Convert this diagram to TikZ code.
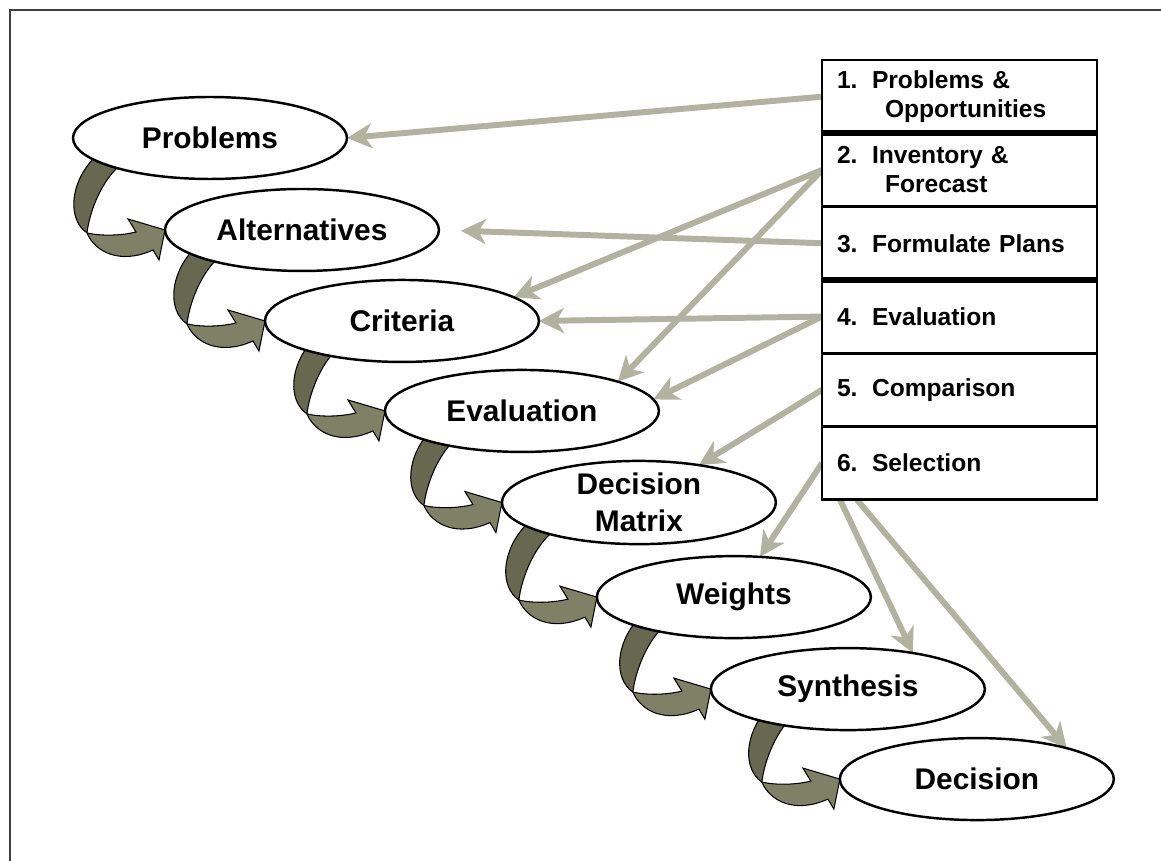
\documentclass[tikz,border=0pt]{standalone}
\usepackage{fontspec}
\setmainfont{Liberation Sans}
\usetikzlibrary{arrows.meta, positioning, calc, backgrounds, shapes.geometric}
\definecolor{sage}{RGB}{178,178,160}
\definecolor{olivedark}{RGB}{104,104,80}
\definecolor{olivelight}{RGB}{128,128,102}

\newcommand{\stepnum}[1]{\makebox[0.7cm][l]{#1}}
% twisted fat arrow, tip placed on the given point
\newcommand{\bentarrow}[1]{%
  \begin{scope}[shift={(#1)}, draw=black, line width=0.6pt]
    \filldraw[fill=olivedark] (-73,-78) -- (-72,-71) .. controls (-96,-45) and (-97,-10) .. (-78,3)
      .. controls (-76,-15) and (-66,-45) .. (-47,-63) -- (-45,-75) -- cycle;
    \filldraw[fill=olivelight] (-78,3) .. controls (-70,22) and (-45,35) .. (-12,20) -- (-6,30) -- (0,0)
      -- (-37,-11) -- (-29,2) .. controls (-45,6) and (-65,6) .. (-78,3) -- cycle;
  \end{scope}}

\begin{document}
\begin{tikzpicture}[
    x=0.02cm, y=-0.02cm,
    stage/.style={ellipse, draw, line width=1.4pt, fill=white, minimum width=5.48cm, minimum height=1.64cm,
      inner sep=0pt, outer sep=0pt, align=center, font=\fontsize{17}{21}\selectfont\bfseries},
    stepbox/.style={rectangle, draw, line width=1.6pt, fill=white, outer sep=0pt, minimum height=1.466cm,
      text width=4.9cm, inner xsep=0.3cm, align=left, font=\fontsize{14}{16.5}\selectfont\bfseries},
    flow/.style={draw=sage, line width=3.4pt, -{Stealth[length=0.5cm, width=0.5cm, inset=0.15cm]}}
]
\useasboundingbox (0,0) rectangle (1161,861);
\draw[black!75, line width=1.2pt] (10,861) -- (10,10) -- (1161,10);

% Stages
\node[stage] (prob) at (210,138) {Problems};
\node[stage, below=0.2cm of prob, xshift=1.84cm] (alt) {Alternatives};
\node[stage, below=0.18cm of alt, xshift=2.0cm] (crit) {Criteria};
\node[stage, below=0.16cm of crit, xshift=2.4cm] (eval) {Evaluation};
\node[stage, below=0.18cm of eval, xshift=2.34cm] (dm) {Decision\\Matrix};
\node[stage, below=0.24cm of dm, xshift=1.9cm] (wt) {Weights};
\node[stage, below=0.2cm of wt, xshift=2.28cm] (syn) {Synthesis};
\node[stage, below=0.16cm of syn, xshift=2.58cm] (dec) {Decision};

% Bent arrows between stages
\begin{scope}[on background layer]
\foreach \n in {alt, crit, eval, dm, wt, syn, dec}
  \bentarrow{\n.west};
\end{scope}

% Steps
\node[stepbox] (s1) at (959.5,96.7) {\stepnum{1.}Problems \&\\\hspace*{0.96cm}Opportunities};
\node[stepbox, below=0pt of s1] (s2) {\stepnum{2.}Inventory \&\\\hspace*{0.96cm}Forecast};
\node[stepbox, below=0pt of s2] (s3) {\stepnum{3.}Formulate Plans};
\node[stepbox, below=0pt of s3] (s4) {\stepnum{4.}Evaluation};
\node[stepbox, below=0pt of s4] (s5) {\stepnum{5.}Comparison};
\node[stepbox, below=0pt of s5] (s6) {\stepnum{6.}Selection};
\draw[line width=3.4pt] (s1.south west) -- (s1.south east);
\draw[line width=3.4pt] (s3.south west) -- (s3.south east);
\coordinate (b1) at ($(s6.south west)+(18,0)$);
\coordinate (b2) at ($(s6.south west)+(35,0)$);

% Links
\begin{scope}[on background layer]
\draw[flow] (s1.west) -- (prob.east);
\draw[flow] (s2.west) -- (crit.12);
\draw[flow] (s2.west) -- (eval.17);
\draw[flow, shorten >=0.44cm] (s3.west) -- (alt.east);
\draw[flow] (s4.west) -- (crit.east);
\draw[flow] (s4.west) -- (eval.5);
\draw[flow] (s5.west) -- (dm.32);
\draw[flow] (s6.west) -- (wt.57);
\draw[flow] (b1) -- (syn.29);
\draw[flow] (b2) -- (dec.19);
\end{scope}
\end{tikzpicture}
\end{document}
